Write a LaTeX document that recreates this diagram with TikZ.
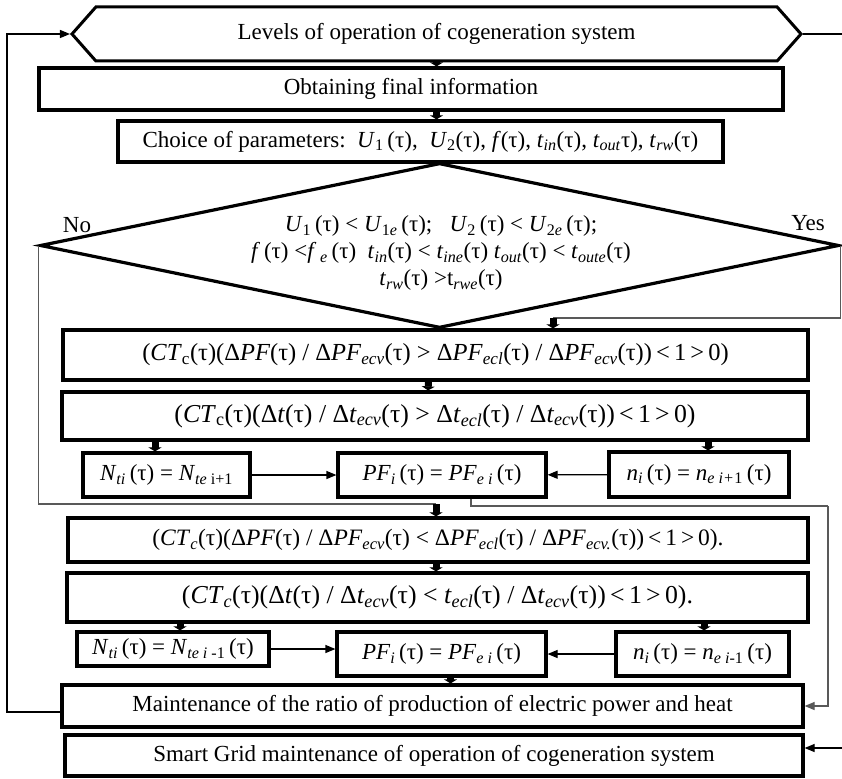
\documentclass[tikz,border=0pt]{standalone}
\usepackage{fontspec}
\setmainfont{Liberation Serif}
\usetikzlibrary{shapes.geometric, shapes.symbols, arrows.meta}
\tikzstyle{block} = [rectangle, draw, line width=3.2pt, inner sep=0pt, text centered]
\tikzstyle{banner} = [signal, signal to=west and east, signal pointer angle=97, draw, line width=3pt, inner sep=0pt]
\tikzstyle{decision} = [diamond, draw, line width=3.2pt, aspect=4.8, inner sep=0pt]
\tikzstyle{stub} = [line width=7pt, -{Triangle[length=4pt,width=13pt]}]
\tikzstyle{arrow} = [line width=1.2pt, -{Triangle[length=10pt,width=8pt]}]
\tikzstyle{wire} = [line width=1.2pt, black!65]
\newcommand{\ix}[1]{\textsubscript{\textit{#1}}}
\newcommand{\up}[1]{\textsubscript{#1}}
\newcommand{\fs}[1]{\fontsize{#1}{29}\selectfont}

\begin{document}
\begin{tikzpicture}[x=1pt, y=-1pt, font=\fontsize{23}{27}\selectfont]
    \useasboundingbox (0,0) rectangle (842,778);
    % top of the chart
    \node [banner, minimum width=729, minimum height=54] at (436.5,34) (levels) {Levels of operation of cogeneration system};
    \node [block, minimum width=744, minimum height=42] at (411,89) (obtain) {Obtaining final information};
    \node [block, minimum width=605, minimum height=41] at (420.5,141.5) (choice) {Choice of parameters:\ \ \textit{U}\up{1}\,(τ),\ \ \textit{U}\up{2}(τ),\ \textit{f}(τ), \textit{t}\ix{in}(τ), \textit{t}\ix{out}τ), \textit{t}\ix{rw}(τ)};
    \node [decision, minimum width=799, minimum height=165] at (439.5,245.5) (check) {};
    \node [align=center] at (441,253) (cond) {\textit{U}\up{1}\,(τ) < \textit{U}\up{1\textit{e}}\,(τ);\ \ \ \textit{U}\up{2}\,(τ) < \textit{U}\up{2\textit{e}}\,(τ);\\
        \textit{f}\,(τ) <\textit{f}\,\ix{e}\,(τ)\ \ \textit{t}\ix{in}(τ) < \textit{t}\ix{ine}(τ) \textit{t}\ix{out}(τ) < \textit{t}\ix{oute}(τ)\\
        \textit{t}\ix{rw}(τ) >t\ix{rwe}(τ)};
    \node at (77,225) (no) {No};
    \node at (808,223) (yes) {Yes};
    % first branch
    \node [block, minimum width=745, minimum height=50, font=\fs{24.5}] at (435.5,355) (ct1) {(\textit{CT}\up{c}(τ)(Δ\textit{PF}(τ) / Δ\textit{PF}\ix{ecv}(τ) > Δ\textit{PF}\ix{ecl}(τ) / Δ\textit{PF}\ix{ecv}(τ))\,<\,1\,>\,0)};
    \node [block, minimum width=746, minimum height=48, font=\fs{25.8}] at (435,416) (ct2) {(\textit{CT}\up{c}(τ)(Δ\textit{t}(τ) / Δ\textit{t}\ix{ecv}(τ) > Δ\textit{t}\ix{ecl}(τ) / Δ\textit{t}\ix{ecv}(τ))\,<\,1\,>\,0)};
    \node [block, minimum width=167, minimum height=44] at (166.5,475) (nt1) {\textit{N}\ix{ti}\,(τ) = \textit{N}\up{\textit{te} i+1}};
    \node [block, minimum width=208, minimum height=44] at (442,475) (pf1) {\textit{PF}\ix{i}\,(τ) = \textit{PF}\ix{e i}\,(τ)};
    \node [block, minimum width=180, minimum height=45] at (699,474.5) (n1) {\textit{n}\ix{i}\,(τ) = \textit{n}\ix{e i+}\up{1}\,(τ)};
    % second branch
    \node [block, minimum width=740, minimum height=44, font=\fs{23.5}] at (438,540) (ct3) {(\textit{CT}\ix{c}(τ)(Δ\textit{PF}(τ) / Δ\textit{PF}\ix{ecv}(τ) < Δ\textit{PF}\ix{ecl}(τ) / Δ\textit{PF}\ix{ecv.}(τ))\,<\,1\,>\,0).};
    \node [block, minimum width=741, minimum height=49, font=\fs{25.8}] at (437.5,597.5) (ct4) {(\textit{CT}\ix{c}(τ)(Δ\textit{t}(τ) / Δ\textit{t}\ix{ecv}(τ) < \textit{t}\ix{ecl}(τ) / Δ\textit{t}\ix{ecv}(τ))\,<\,1\,>\,0).};
    \node [block, minimum width=192, minimum height=34] at (173,649) (nt2) {\textit{N}\ix{ti}\,(τ) = \textit{N}\up{\textit{te i} -1}\,(τ)};
    \node [block, minimum width=209, minimum height=44] at (441.5,654) (pf2) {\textit{PF}\ix{i}\,(τ) = \textit{PF}\ix{e i}\,(τ)};
    \node [block, minimum width=173, minimum height=44] at (702.5,654) (n2) {\textit{n}\ix{i}\,(τ) = \textit{n}\up{\textit{e i}-1}\,(τ)};
    % bottom of the chart
    \node [block, minimum width=741, minimum height=42] at (432.5,706) (ratio) {Maintenance of the ratio of production of electric power and heat};
    \node [block, minimum width=738, minimum height=41] at (434,755.5) (smart) {Smart Grid maintenance of operation of cogeneration system};
    \coordinate (yesturn) at (553,318);
    \coordinate (noturn) at (436,504);
    \coordinate (back) at (828,506);
    \coordinate (out) at (842,34);
    \coordinate (in) at (842,748);
    \draw [stub] (levels.south) -- (levels.south |- obtain.north);
    \draw [stub] (obtain.south -| levels.south) -- (choice.north -| levels.south);
    \draw [wire] (check.east) |- (yesturn);
    \draw [stub] (yesturn) -- (yesturn |- ct1.north);
    \draw [wire] (check.west) |- (noturn);
    \draw [stub] (noturn) -- (noturn |- ct3.north);
    \draw [stub] ([xshift=-7]ct1.south) -- ([xshift=-7]ct2.north);
    \draw [stub] (ct2.south -| 155,0) -- (nt1.north -| 155,0);
    \draw [stub] (ct2.south -| 708,0) -- (n1.north -| 708,0);
    \draw [arrow] (nt1) -- (pf1);
    \draw [arrow] (n1) -- (pf1);
    \draw [wire] ([xshift=29]pf1.south) |- (back);
    \draw [wire, -{Triangle[length=10pt,width=8pt]}] (back) |- (ratio.east);
    \draw [stub] (ct3.south -| noturn) -- (ct4.north -| noturn);
    \draw [stub] (ct4.south -| 180,0) -- (nt2.north -| 180,0);
    \draw [stub] (ct4.south -| 704,0) -- (n2.north -| 704,0);
    \draw [arrow] (nt2) -- (nt2 -| pf2.west);
    \draw [arrow] (n2) -- (pf2);
    \draw [stub] ([xshift=9]pf2.south) -- ([xshift=9]pf2.south |- ratio.north);
    \draw [line width=1.2pt, -{Triangle[length=10pt,width=8pt]}] ([yshift=-6]ratio.west) -| (7,400) |- (levels.west);
    \draw [line width=1.2pt] (levels.east) -- (out);
    \draw [arrow] (in) -- (in -| smart.east);
\end{tikzpicture}
\end{document}
